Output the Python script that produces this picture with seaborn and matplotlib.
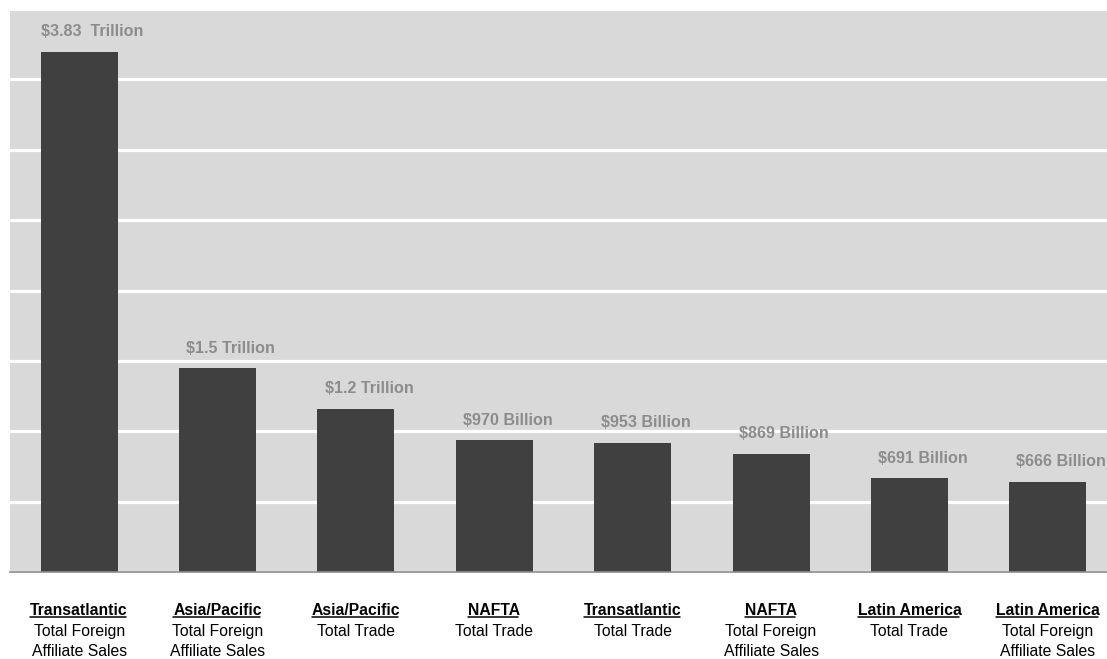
import numpy as np
import pandas as pd
import matplotlib
matplotlib.use("Agg")
import matplotlib.pyplot as plt
from matplotlib.lines import Line2D
import seaborn as sns

# Trade and affiliate-sales volumes by region, in billions of US dollars
regions = ["Transatlantic", "Asia/Pacific", "Asia/Pacific", "NAFTA",
           "Transatlantic", "NAFTA", "Latin America", "Latin America"]
measures = [["Total Foreign", "Affiliate Sales"],
            ["Total Foreign", "Affiliate Sales"],
            ["Total Trade"],
            ["Total Trade"],
            ["Total Trade"],
            ["Total Foreign", "Affiliate Sales"],
            ["Total Trade"],
            ["Total Foreign", "Affiliate Sales"]]
values_bn = [3830, 1500, 1200, 970, 953, 869, 691, 666]
value_labels = ["$3.83  Trillion", "$1.5 Trillion", "$1.2 Trillion", "$970 Billion",
                "$953 Billion", "$869 Billion", "$691 Billion", "$666 Billion"]

keys = [f"{r} | {' '.join(m)} #{i}" for i, (r, m) in enumerate(zip(regions, measures))]
df = pd.DataFrame({"key": keys, "value": values_bn})

sns.set_theme(style="white")
plt.rcParams["font.family"] = ["Liberation Sans", "DejaVu Sans"]

BG = "#d9d9d9"
BAR = "#404040"
LABEL_GREY = "#8c8c8c"

fig = plt.figure(figsize=(11.07, 6.59), dpi=100)
ax = fig.add_axes([10 / 1107, 1 - 572 / 659, 1107 / 1107, 563 / 659])
ax.set_facecolor(BG)

sns.barplot(data=df, x="key", y="value", order=keys, color=BAR,
            saturation=1, width=0.556, linewidth=0, edgecolor=BAR, ax=ax)

ymax = 4147
ax.set_ylim(0, ymax)
ax.set_xlim(-0.5, len(keys) - 0.5)
ax.set_yticks(np.linspace(0, ymax, 9))
ax.yaxis.grid(True, color="white", linewidth=2.3)
ax.set_axisbelow(True)
ax.set_yticklabels([])
ax.set_xticks(range(len(keys)))
ax.set_xticklabels([])
ax.tick_params(axis="both", length=0)
ax.set_xlabel("")
ax.set_ylabel("")
for side in ["top", "right", "left"]:
    ax.spines[side].set_visible(False)
ax.spines["bottom"].set_color("#8c8c8c")
ax.spines["bottom"].set_linewidth(1.2)

# Value labels above each bar
for i, (v, lab) in enumerate(zip(values_bn, value_labels)):
    ax.annotate(lab, (i, v), xytext=(9.5, 14.5), textcoords="offset points",
                ha="center", va="center", fontsize=11.6, fontweight="bold",
                color=LABEL_GREY, annotation_clip=False)

# Category labels: underlined region name, then the measure
title_texts = []
for i, (r, m) in enumerate(zip(regions, measures)):
    t = ax.annotate(r, (i, 0), xycoords=("data", "axes fraction"),
                    xytext=(0, -27.5), textcoords="offset points",
                    ha="center", va="center", fontsize=11.3, fontweight="bold",
                    color="black", annotation_clip=False)
    title_texts.append(t)
    for j, line in enumerate(m):
        ax.annotate(line, (i, 0), xycoords=("data", "axes fraction"),
                    xytext=(0, -42.5 - 14.5 * j), textcoords="offset points",
                    ha="center", va="center", fontsize=11.3,
                    color="black", annotation_clip=False)

fig.canvas.draw()
renderer = fig.canvas.get_renderer()
inv = fig.transFigure.inverted()
for t in title_texts:
    bb = t.get_window_extent(renderer)
    y = bb.y0 + 0.8
    (x0, yf), (x1, _) = inv.transform([(bb.x0, y), (bb.x1 - 2.0, y)])
    fig.add_artist(Line2D([x0, x1], [yf, yf], transform=fig.transFigure,
                          color="black", linewidth=1.1))

fig.savefig("out.png", dpi=100, facecolor="white")
